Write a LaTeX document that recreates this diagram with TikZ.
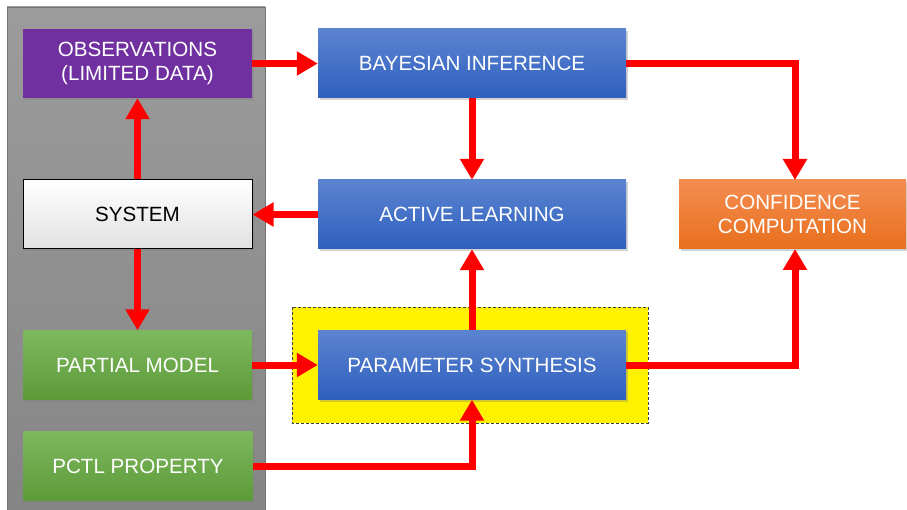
\documentclass[tikz,border=0pt]{standalone}
\usepackage{fontspec}
\setmainfont{Liberation Sans}
\usetikzlibrary{arrows.meta,shadows,positioning}
\definecolor{bluetop}{HTML}{5B84D0}
\definecolor{bluebot}{HTML}{2F5FBE}
\definecolor{greentop}{HTML}{7DB85F}
\definecolor{greenbot}{HTML}{5D9B38}
\definecolor{orangetop}{HTML}{F48D52}
\definecolor{orangebot}{HTML}{E86F1C}
\definecolor{purp}{HTML}{7030A0}
\definecolor{graytop}{HTML}{9C9C9C}
\definecolor{graybot}{HTML}{858585}
\definecolor{arrred}{HTML}{FF0000}
\tikzset{
  box/.style={minimum height=69pt, align=center, inner sep=0pt,
    font=\fontsize{20.6}{24.5}\selectfont, text=white,
    drop shadow={opacity=0.35, shadow xshift=1.5pt, shadow yshift=-2pt}},
  bluebox/.style={box, minimum width=308pt, top color=bluetop, bottom color=bluebot},
  greenbox/.style={box, minimum width=229pt, top color=greentop, bottom color=greenbot},
  orangebox/.style={box, minimum width=227pt, top color=orangetop, bottom color=orangebot},
  purplebox/.style={box, minimum width=229pt, fill=purp},
  sysbox/.style={box, minimum width=229pt, text=black, draw=black, line width=1pt,
    top color=white, bottom color=black!12},
  flow/.style={draw=arrred, line width=7pt, -{Triangle[width=23pt,length=21pt]}},
}
\begin{document}
\begin{tikzpicture}[x=1pt,y=-1pt]
\useasboundingbox (0,0) rectangle (907,510);
\fill[white] (0,0) rectangle (907,510);
% gray panel
\shade[top color=graytop, bottom color=graybot, draw=black!55, line width=0.8pt]
  (7,7) rectangle (265,512);
% yellow highlight
\draw[fill=yellow, draw=black!75, dash pattern=on 3pt off 2pt, line width=0.8pt] (292,307) rectangle (648,423);
% nodes
\node[purplebox] (obs) at (137.5,63.5) {OBSERVATIONS\\(LIMITED DATA)};
\node[sysbox] (sys) at (137.5,214.5) {SYSTEM};
\node[greenbox] (pm) at (137.5,365) {PARTIAL MODEL};
\node[greenbox] (pctl) at (138,466) {PCTL PROPERTY};
\node[bluebox] (bi) at (472,63.5) {BAYESIAN INFERENCE};
\node[bluebox] (al) at (472,214.5) {ACTIVE LEARNING};
\node[bluebox] (ps) at (472,365) {PARAMETER SYNTHESIS};
\node[orangebox] (cc) at (792.5,214.5) {CONFIDENCE\\COMPUTATION};
\coordinate (cctop) at (795,180);
\coordinate (ccbot) at (795,249);
% arrows
\draw[flow] (obs.east) -- (bi.west);
\draw[flow] (bi.south) -- (al.north);
\draw[flow] (al.west) -- (sys.east);
\draw[flow] (sys.north) -- (obs.south);
\draw[flow] (sys.south) -- (pm.north);
\draw[flow] (pm.east) -- (ps.west);
\draw[flow] (ps.north) -- (al.south);
\draw[flow] (pctl.east) -| (ps.south);
\draw[flow] (bi.east) -| (cctop);
\draw[flow] (ps.east) -| (ccbot);
\end{tikzpicture}
\end{document}
